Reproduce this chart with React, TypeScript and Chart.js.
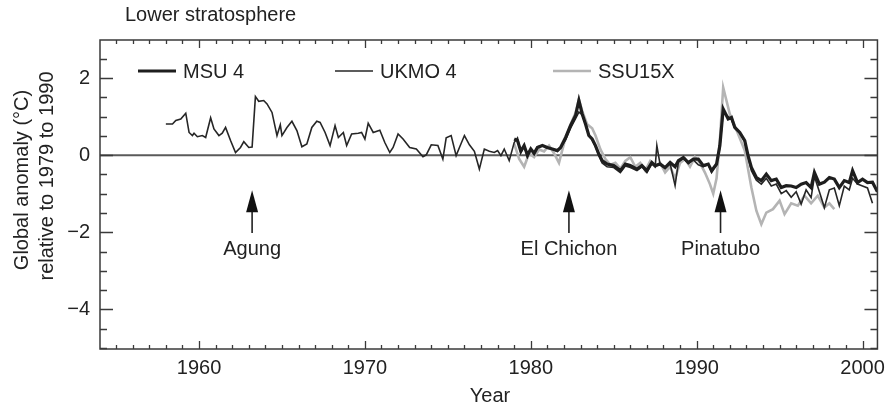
import React, { useEffect, useRef } from "react";
import { Chart, registerables } from "chart.js";

Chart.register(...registerables);

// ---------- data ----------
const ukmoYears = [
  1958.0, 1958.4, 1958.6, 1958.9, 1959.2, 1959.4, 1959.6, 1959.7, 1959.9, 1960.2,
  1960.4, 1960.7, 1960.9, 1961.2, 1961.4, 1961.6, 1961.9, 1962.2, 1962.5, 1962.7,
  1963.0, 1963.2, 1963.4, 1963.6, 1963.9, 1964.1, 1964.4, 1964.7, 1964.9, 1965.0,
  1965.3, 1965.6, 1965.9, 1966.2, 1966.5, 1966.8, 1967.1, 1967.3, 1967.6, 1967.9,
  1968.2, 1968.4, 1968.7, 1968.9, 1969.2, 1969.6, 1969.8, 1970.0, 1970.2, 1970.5,
  1970.9, 1971.2, 1971.5, 1971.7, 1972.0, 1972.3, 1972.7, 1973.1, 1973.5, 1973.7,
  1974.0, 1974.4, 1974.7, 1974.9, 1975.2, 1975.5, 1975.7, 1976.0, 1976.3, 1976.6,
  1976.9, 1977.2, 1977.5, 1977.8, 1978.0, 1978.2, 1978.4, 1978.7, 1979.0, 1979.2,
  1979.4, 1979.6, 1979.8, 1980.0, 1980.2, 1980.4, 1980.7, 1981.0, 1981.3, 1981.6,
  1981.8, 1982.1, 1982.4, 1982.7, 1982.9, 1983.1, 1983.3, 1983.5, 1983.7, 1983.9,
  1984.1, 1984.3, 1984.6, 1985.0, 1985.4, 1985.7, 1986.0, 1986.4, 1986.7, 1987.0,
  1987.3, 1987.5, 1987.6, 1987.8, 1988.1, 1988.4, 1988.7, 1988.9, 1989.2, 1989.5,
  1989.8, 1990.1, 1990.4, 1990.7, 1990.9, 1991.2, 1991.4, 1991.6, 1991.9, 1992.1,
  1992.3, 1992.6, 1992.9, 1993.1, 1993.3, 1993.6, 1993.9, 1994.2, 1994.5, 1994.8,
  1995.1, 1995.4, 1995.7, 1996.0, 1996.3, 1996.6, 1996.9, 1997.1, 1997.4, 1997.7,
  1998.0, 1998.3, 1998.6, 1998.9, 1999.2, 1999.4, 1999.7, 2000.0, 2000.3, 2000.6,
];
const ukmoValues = [
  0.81, 0.81, 0.9, 0.94, 1.09, 0.59, 0.51, 0.57, 0.48, 0.51,
  0.46, 0.97, 0.68, 0.51, 0.57, 0.72, 0.38, 0.07, 0.2, 0.35,
  0.2, 0.21, 1.52, 1.4, 1.42, 1.33, 1.11, 0.51, 0.79, 0.51,
  0.72, 0.88, 0.64, 0.22, 0.29, 0.72, 0.88, 0.85, 0.59, 0.25,
  0.77, 0.46, 0.59, 0.25, 0.55, 0.57, 0.59, 0.42, 0.83, 0.59,
  0.65, 0.33, 0.07, 0.2, 0.55, 0.42, 0.2, 0.16, -0.04, 0.01,
  0.27, 0.25, -0.1, 0.45, 0.51, -0.01, 0.2, 0.51, 0.27, 0.1,
  -0.36, 0.16, 0.1, 0.07, 0.12, -0.01, 0.16, -0.14, 0.33, 0.45,
  0.07, 0.25, -0.05, 0.16, 0.03, 0.22, 0.25, 0.18, 0.16, 0.1,
  0.2, 0.4, 0.7, 0.95, 1.12, 1.05, 0.8, 0.5, 0.4, 0.22,
  0.0, -0.2, -0.3, -0.32, -0.45, -0.28, -0.32, -0.4, -0.3, -0.45,
  -0.22, -0.3, 0.25, -0.25, -0.35, -0.22, -0.79, -0.18, -0.08, -0.22,
  -0.12, -0.25, -0.3, -0.25, -0.45, -0.25, 0.2, 1.12, 1.0, 0.92,
  0.7, 0.58, 0.35, -0.05, -0.4, -0.65, -0.75, -0.6, -0.8, -0.75,
  -1.0, -0.92, -1.09, -0.95, -1.27, -0.9, -1.1, -0.55, -0.95, -1.36,
  -0.9, -0.85, -1.31, -0.8, -0.9, -0.6, -0.75, -0.8, -0.85, -1.25,
];

const msuYears = [
  1979.0, 1979.2, 1979.4, 1979.6, 1979.8, 1980.0, 1980.2, 1980.4, 1980.7, 1981.0,
  1981.3, 1981.6, 1981.8, 1982.1, 1982.4, 1982.7, 1982.9, 1983.1, 1983.3, 1983.5,
  1983.7, 1983.9, 1984.1, 1984.3, 1984.6, 1985.0, 1985.4, 1985.7, 1986.0, 1986.4,
  1986.7, 1987.0, 1987.3, 1987.5, 1987.8, 1988.1, 1988.4, 1988.7, 1988.9, 1989.2,
  1989.5, 1989.8, 1990.1, 1990.4, 1990.7, 1990.9, 1991.2, 1991.4, 1991.6, 1991.9,
  1992.1, 1992.3, 1992.6, 1992.9, 1993.1, 1993.3, 1993.6, 1993.9, 1994.2, 1994.5,
  1994.8, 1995.1, 1995.4, 1995.7, 1996.0, 1996.3, 1996.6, 1996.9, 1997.1, 1997.4,
  1997.7, 1998.0, 1998.3, 1998.6, 1998.9, 1999.2, 1999.4, 1999.7, 2000.0, 2000.3,
  2000.6, 2000.9,
];
const msuValues = [
  0.42, 0.38, 0.1, 0.25, 0.0, 0.16, 0.05, 0.2, 0.25, 0.2,
  0.16, 0.12, 0.2, 0.46, 0.77, 1.03, 1.42, 1.07, 0.81, 0.51,
  0.42, 0.25, 0.03, -0.14, -0.23, -0.27, -0.4, -0.23, -0.27, -0.36,
  -0.27, -0.4, -0.19, -0.27, -0.23, -0.32, -0.19, -0.3, -0.14, -0.06,
  -0.19, -0.1, -0.1, -0.27, -0.23, -0.4, -0.23, 0.25, 1.2, 0.94,
  0.98, 0.72, 0.59, 0.38, -0.01, -0.32, -0.58, -0.66, -0.49, -0.66,
  -0.62, -0.84, -0.79, -0.8, -0.84, -0.75, -0.71, -0.84, -0.45, -0.75,
  -0.7, -0.58, -0.62, -0.84, -0.66, -0.71, -0.4, -0.71, -0.62, -0.71,
  -0.7, -0.95,
];

const ssuYears = [
  1979.0, 1979.3, 1979.6, 1979.9, 1980.2, 1980.5, 1980.8, 1981.1, 1981.4, 1981.7,
  1982.0, 1982.4, 1982.7, 1982.9, 1983.1, 1983.4, 1983.7, 1983.9, 1984.2, 1984.5,
  1984.8, 1985.1, 1985.4, 1985.7, 1986.0, 1986.3, 1986.6, 1986.9, 1987.2, 1987.5,
  1987.8, 1988.1, 1988.4, 1988.7, 1989.0, 1989.3, 1989.6, 1989.9, 1990.2, 1990.5,
  1990.8, 1991.0, 1991.2, 1991.4, 1991.6, 1992.0, 1992.5, 1992.9, 1993.3, 1993.6,
  1993.9, 1994.2, 1994.6, 1995.0, 1995.3, 1995.7, 1996.1, 1996.5, 1996.9, 1997.3,
  1997.7, 1998.0, 1998.3,
];
const ssuValues = [
  0.3, -0.1, -0.3, 0.05, -0.05, 0.15, 0.1, 0.25, 0.05, -0.2,
  0.3, 0.8, 1.1, 1.45, 1.15, 0.8, 0.7, 0.51, 0.15, -0.1,
  -0.25, -0.2, -0.35, -0.15, -0.05, -0.3, -0.2, -0.4, -0.15, -0.3,
  -0.2, -0.45, -0.3, -0.6, -0.2, -0.1, -0.3, -0.05, -0.2, -0.45,
  -0.75, -1.0, -0.6, 0.4, 1.76, 1.07, 0.55, 0.12, -0.84, -1.44,
  -1.79, -1.49, -1.4, -1.18, -1.53, -1.25, -1.31, -1.05, -1.25, -1.05,
  -1.36, -1.25, -1.4,
];

const seriesLabels = ["MSU 4", "UKMO 4", "SSU15X"];
const xTickYears = [1960, 1970, 1980, 1990, 2000];
const yTickValues = [-4, -2, 0, 2];
const volcanoNames = ["Agung", "El Chichon", "Pinatubo"];
const volcanoYears = [1963.2, 1982.3, 1991.44];
const arrowTipValue = -0.91;
const arrowTailValue = -2.02;
const volcanoLabelValue = -2.46;
const chartTitle = "Lower stratosphere";
const yTitleLines = ["Global anomaly (\u00B0C)", "relative to 1979 to 1990"];
const xTitle = "Year";

// ---------- styling ----------
const FONT = '"Liberation Sans", Arial, Helvetica, sans-serif';
const TEXT = "#222";
const FS = 20;
const seriesColors = ["#1e1e1e", "#262626", "#b4b4b4"];
const seriesWidths = [3.2, 1.6, 2.6];

const pts = (xs: number[], ys: number[]) => xs.map((x, i) => ({ x, y: ys[i] }));

const decorPlugin = {
  id: "decor",
  beforeDatasetsDraw(chart: any) {
    const { ctx, chartArea: a, scales } = chart;
    const y0 = scales.y.getPixelForValue(0);
    ctx.save();
    ctx.strokeStyle = "#5a5a5a";
    ctx.lineWidth = 2;
    ctx.beginPath();
    ctx.moveTo(a.left, y0);
    ctx.lineTo(a.right, y0);
    ctx.stroke();
    ctx.restore();
  },
  afterDraw(chart: any) {
    const { ctx, chartArea: a, scales } = chart;
    const xs = scales.x;
    const ys = scales.y;
    ctx.save();
    // frame
    ctx.strokeStyle = "#3a3a3a";
    ctx.lineWidth = 1.5;
    ctx.strokeRect(a.left, a.top, a.right - a.left, a.bottom - a.top);
    // inward ticks
    ctx.lineWidth = 1.3;
    ctx.beginPath();
    for (let yr = Math.ceil(xs.min); yr <= xs.max; yr++) {
      const px = Math.round(xs.getPixelForValue(yr)) + 0.5;
      const len = yr % 10 === 0 ? 8 : 4;
      ctx.moveTo(px, a.bottom);
      ctx.lineTo(px, a.bottom - len);
      ctx.moveTo(px, a.top);
      ctx.lineTo(px, a.top + len);
    }
    for (let k = Math.ceil(ys.min * 2); k <= Math.floor(ys.max * 2); k++) {
      const v = k / 2;
      const py = Math.round(ys.getPixelForValue(v)) + 0.5;
      const len = yTickValues.includes(v) ? 13 : 7;
      ctx.moveTo(a.left, py);
      ctx.lineTo(a.left + len, py);
      ctx.moveTo(a.right, py);
      ctx.lineTo(a.right - len, py);
    }
    ctx.stroke();

    // texts
    ctx.fillStyle = TEXT;
    ctx.font = `${FS}px ${FONT}`;
    ctx.textBaseline = "middle";
    ctx.textAlign = "left";
    ctx.fillText(chartTitle, 125, 15);

    ctx.textAlign = "center";
    ctx.fillText(xTitle, 490, 396);

    ctx.save();
    ctx.translate(22, 180);
    ctx.rotate(-Math.PI / 2);
    ctx.fillText(yTitleLines[0], 0, 0);
    ctx.restore();
    ctx.save();
    ctx.translate(47, 176);
    ctx.rotate(-Math.PI / 2);
    ctx.fillText(yTitleLines[1], 0, 0);
    ctx.restore();

    // legend
    const legendX = [138, 335, 553];
    const legendY = 71;
    seriesLabels.forEach((lab, i) => {
      ctx.strokeStyle = seriesColors[i];
      ctx.lineWidth = seriesWidths[i];
      ctx.beginPath();
      ctx.moveTo(legendX[i], legendY);
      ctx.lineTo(legendX[i] + 38, legendY);
      ctx.stroke();
      ctx.fillStyle = TEXT;
      ctx.textAlign = "left";
      ctx.fillText(lab, legendX[i] + 45, legendY + 1);
    });

    // volcano arrows
    volcanoNames.forEach((name, i) => {
      const px = xs.getPixelForValue(volcanoYears[i]);
      const tip = ys.getPixelForValue(arrowTipValue);
      const tail = ys.getPixelForValue(arrowTailValue);
      ctx.strokeStyle = "#222";
      ctx.lineWidth = 1.6;
      ctx.beginPath();
      ctx.moveTo(px, tip + 10);
      ctx.lineTo(px, tail);
      ctx.stroke();
      ctx.fillStyle = "#111";
      ctx.beginPath();
      ctx.moveTo(px, tip);
      ctx.lineTo(px - 6, tip + 22);
      ctx.lineTo(px + 6, tip + 22);
      ctx.closePath();
      ctx.fill();
      ctx.fillStyle = TEXT;
      ctx.textAlign = "center";
      ctx.fillText(name, px, ys.getPixelForValue(volcanoLabelValue));
    });
    ctx.restore();
  },
};

export default function App() {
  const ref = useRef<HTMLCanvasElement | null>(null);
  useEffect(() => {
    document.body.style.margin = "0";
    const canvas = ref.current;
    if (!canvas) return;
    const chart = new Chart(canvas, {
      type: "line",
      data: {
        datasets: [
          {
            label: seriesLabels[0],
            data: pts(msuYears, msuValues),
            borderColor: seriesColors[0],
            borderWidth: seriesWidths[0],
            pointRadius: 0,
            tension: 0,
            order: 1,
          },
          {
            label: seriesLabels[1],
            data: pts(ukmoYears, ukmoValues),
            borderColor: seriesColors[1],
            borderWidth: seriesWidths[1],
            pointRadius: 0,
            tension: 0,
            order: 2,
          },
          {
            label: seriesLabels[2],
            data: pts(ssuYears, ssuValues),
            borderColor: seriesColors[2],
            borderWidth: seriesWidths[2],
            pointRadius: 0,
            tension: 0,
            order: 3,
          },
        ],
      },
      options: {
        animation: false,
        responsive: false,
        maintainAspectRatio: false,
        devicePixelRatio: 1,
        layout: { padding: { left: 0, right: 12, top: 40, bottom: 0 } },
        plugins: { legend: { display: false }, tooltip: { enabled: false }, title: { display: false } },
        scales: {
          x: {
            type: "linear",
            min: 1954.03,
            max: 2000.9,
            grid: { display: false, drawTicks: false },
            border: { display: false },
            ticks: {
              font: { family: FONT, size: FS },
              color: TEXT,
              padding: 7,
              maxRotation: 0,
              autoSkip: false,
              callback: (v: any) => String(v),
            },
            afterBuildTicks: (s: any) => {
              s.ticks = xTickYears.map((v) => ({ value: v }));
            },
            afterFit: (s: any) => {
              s.height = 59;
            },
          },
          y: {
            type: "linear",
            min: -5.03,
            max: 2.99,
            grid: { display: false, drawTicks: false },
            border: { display: false },
            ticks: {
              font: { family: FONT, size: FS },
              color: TEXT,
              padding: 10,
              autoSkip: false,
              callback: (v: any) => (v < 0 ? "\u2212" + Math.abs(v) : String(v)),
            },
            afterBuildTicks: (s: any) => {
              s.ticks = yTickValues.map((v) => ({ value: v }));
            },
            afterFit: (s: any) => {
              s.width = 100;
            },
          },
        },
      },
      plugins: [decorPlugin],
    });
    return () => chart.destroy();
  }, []);
  return (
    <div style={{ width: 892, height: 408, background: "#fff" }}>
      <canvas ref={ref} width={892} height={408} style={{ display: "block" }} />
    </div>
  );
}
